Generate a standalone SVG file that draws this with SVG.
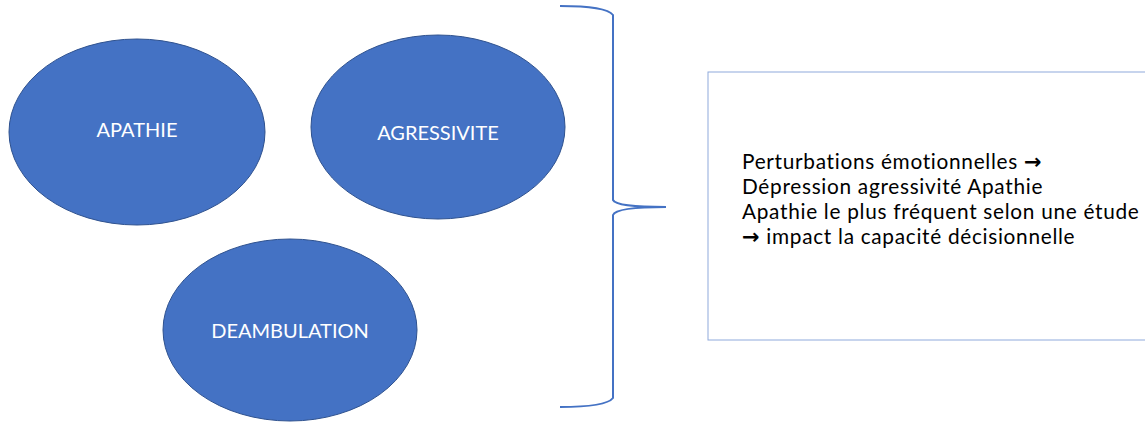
<svg xmlns="http://www.w3.org/2000/svg" width="1145" height="425" viewBox="0 0 1145 425">
<style>
.node ellipse{fill:#4472C4;stroke:#2F528F;stroke-width:1}
.lbl{font-family:Lato,"Open Sans",sans-serif;font-size:20px;fill:#fff;text-anchor:middle}
.body{font-family:Lato,"Open Sans",sans-serif;font-size:20.8px;letter-spacing:0.7px;fill:#000}
.arr{font-family:"DejaVu Sans",sans-serif;font-weight:bold;font-size:21px}
.brace{fill:none;stroke:#4472C4;stroke-width:2}
</style>
<rect width="1145" height="425" fill="#fff"/>
<g id="apathie" class="node">
<ellipse cx="137" cy="132" rx="128" ry="93"/>
<text class="lbl" x="137" y="137">APATHIE</text>
</g>
<g id="agressivite" class="node">
<ellipse cx="438" cy="127" rx="127" ry="92"/>
<text class="lbl" x="438" y="140">AGRESSIVITE</text>
</g>
<g id="deambulation" class="node">
<ellipse cx="290" cy="330" rx="127" ry="91"/>
<text class="lbl" x="290" y="338">DEAMBULATION</text>
</g>
<g id="connectors">
<path class="brace" d="M560,6 Q606,6 613,15 L613,200 Q616,207 666,207 Q616,207 613,215 L613,398 Q606,407 560,407"/>
</g>
<g id="textbox">
<rect x="708" y="72" width="445" height="268" fill="#fff" stroke="#8FAADC" stroke-width="1"/>
<text class="body" x="742" y="169">Perturbations émotionnelles <tspan class="arr">→</tspan></text>
<text class="body" x="742" y="194">Dépression agressivité Apathie</text>
<text class="body" x="742" y="219">Apathie le plus fréquent selon une étude</text>
<text class="body" x="742" y="244"><tspan class="arr">→</tspan> impact la capacité décisionnelle</text>
</g>
</svg>
